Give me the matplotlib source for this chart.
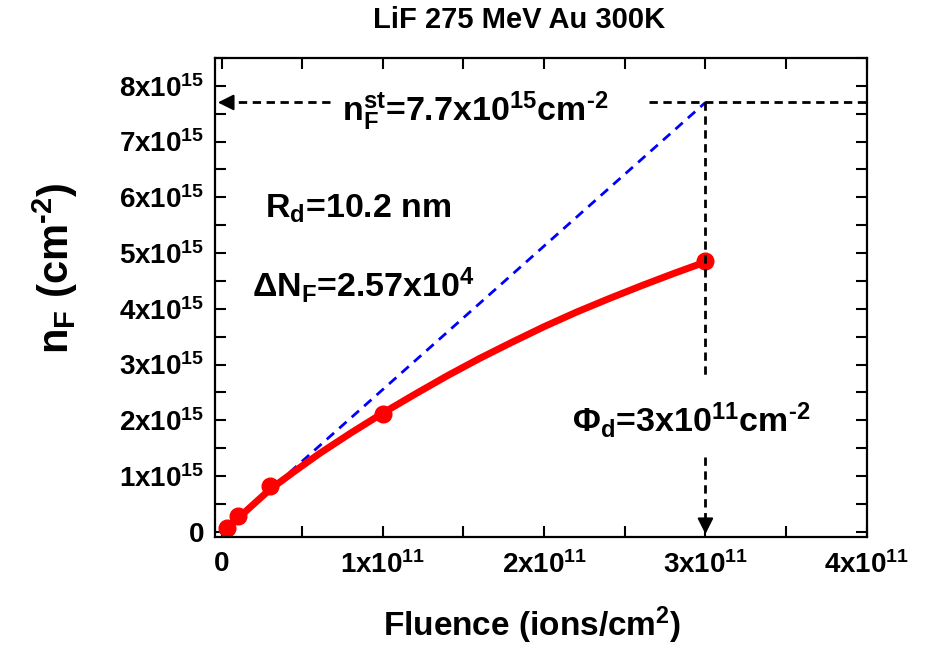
import numpy as np
import matplotlib
matplotlib.use("Agg")
import matplotlib.pyplot as plt
from matplotlib.ticker import FixedLocator, MultipleLocator

plt.rcParams['font.family'] = ['Liberation Sans', 'DejaVu Sans']
plt.rcParams['font.weight'] = 'bold'
plt.rcParams['axes.labelweight'] = 'bold'
plt.rcParams['mathtext.fontset'] = 'custom'
plt.rcParams['mathtext.rm'] = 'Liberation Sans:bold'
plt.rcParams['mathtext.it'] = 'Liberation Sans:bold'
plt.rcParams['mathtext.bf'] = 'Liberation Sans:bold'
plt.rcParams['mathtext.sf'] = 'Liberation Sans:bold'

# measured points
fluence = [0.035e11, 0.105e11, 0.3e11, 1.0e11, 3.0e11]
n_F = [0.07e15, 0.29e15, 0.82e15, 2.12e15, 4.85e15]

# red curve
fit_x = [0.035e11, 0.105e11, 0.2e11, 0.3e11, 0.45e11, 0.61e11, 0.8e11, 1.0e11, 1.2e11,
         1.4e11, 1.6e11, 1.8e11, 2.0e11, 2.2e11, 2.4e11, 2.6e11, 2.8e11, 3.0e11]
fit_y = [0.07e15, 0.25e15, 0.50e15, 0.76e15, 1.08e15, 1.41e15, 1.77e15, 2.13e15, 2.47e15,
         2.80e15, 3.11e15, 3.40e15, 3.68e15, 3.94e15, 4.18e15, 4.41e15, 4.63e15, 4.84e15]

# blue dashed line (no-overlap limit)
lin_x = [0.035e11, 3.0e11]
lin_y = [0.07e15, 7.7e15]

n_st = 7.7e15
phi_d = 3e11

xticks = [0, 1e11, 2e11, 3e11, 4e11]
xtick_labels = ['0', r'$1\mathrm{x}10^{11}$', r'$2\mathrm{x}10^{11}$',
                r'$3\mathrm{x}10^{11}$', r'$4\mathrm{x}10^{11}$']
yticks = [0, 1e15, 2e15, 3e15, 4e15, 5e15, 6e15, 7e15, 8e15]
ytick_labels = ['0'] + [r'$%d\mathrm{x}10^{15}$' % k for k in range(1, 9)]

fig = plt.figure(figsize=(9.27, 6.5), dpi=100)
ax = fig.add_axes([0.232, 0.174, 0.703, 0.737])

ax.plot(lin_x, lin_y, color='blue', lw=2.0, dashes=(3.5, 2.5))
ax.plot(fit_x, fit_y, color='red', lw=5, solid_capstyle='round', solid_joinstyle='round')
ax.plot(fluence, n_F, 'o', color='red', ms=12)

# guide lines
xl = (-0.04e11, 4e11)
yl = (-0.09e15, 8.5e15)
dash = dict(color='black', lw=2.0, dashes=(3, 2))
ax.plot([0.67e11, xl[0] + 0.08e11], [n_st, n_st], **dash)
ax.plot([2.65e11, xl[1]], [n_st, n_st], **dash)
ax.plot([phi_d, phi_d], [n_st, 2.78e15], **dash)
ax.plot([phi_d, phi_d], [1.34e15, yl[0] + 0.3e15], **dash)
head = dict(arrowstyle='-|>', color='black', lw=1.5, mutation_scale=24)
ax.annotate('', xy=(xl[0], n_st), xytext=(xl[0] + 0.1e11, n_st), arrowprops=head)
ax.annotate('', xy=(phi_d, yl[0]), xytext=(phi_d, yl[0] + 0.35e15), arrowprops=head)

fs = 24.5
ax.text(0.75e11, 7.37e15, r'$\mathrm{n_F^{st}}$=7.7x10$^{15}$cm$^{\text{-2}}$', fontsize=fs, va='baseline')
ax.text(0.27e11, 5.63e15, r'R$_\mathrm{d}$=10.2 nm', fontsize=fs, va='baseline')
ax.text(0.19e11, 4.21e15, r'ΔN$_\mathrm{F}$=2.57x10$^4$', fontsize=fs, va='baseline')
ax.text(2.17e11, 1.79e15, r'Φ$_\mathrm{d}$=3x10$^{11}$cm$^{\text{-2}}$', fontsize=fs, va='baseline')

ax.set_xlim(xl)
ax.set_ylim(yl)
ax.xaxis.set_major_locator(FixedLocator(xticks))
ax.set_xticklabels(xtick_labels)
ax.yaxis.set_major_locator(FixedLocator(yticks))
ax.set_yticklabels(ytick_labels)
ax.xaxis.set_minor_locator(MultipleLocator(0.5e11))
ax.yaxis.set_minor_locator(MultipleLocator(0.5e15))
ax.tick_params(which='both', direction='in', top=True, right=True, length=8, width=1.5)
ax.tick_params(axis='x', labelsize=20, pad=10)
ax.tick_params(axis='y', labelsize=20, pad=8)
for s in ax.spines.values():
    s.set_linewidth(1.6)

ax.set_xlabel(r'Fluence (ions/cm$^2$)', fontsize=24, va='center')
ax.xaxis.set_label_coords(0.486, -0.184)
ax.set_ylabel(r'$\mathrm{n_F}$ (cm$^{\text{-2}}$)', fontsize=30, va='center')
ax.yaxis.set_label_coords(-0.245, 0.56)

fig.text(0.56, 0.969, 'LiF 275 MeV Au 300K', fontsize=21, ha='center', va='center')

fig.savefig('out.png', dpi=100)
